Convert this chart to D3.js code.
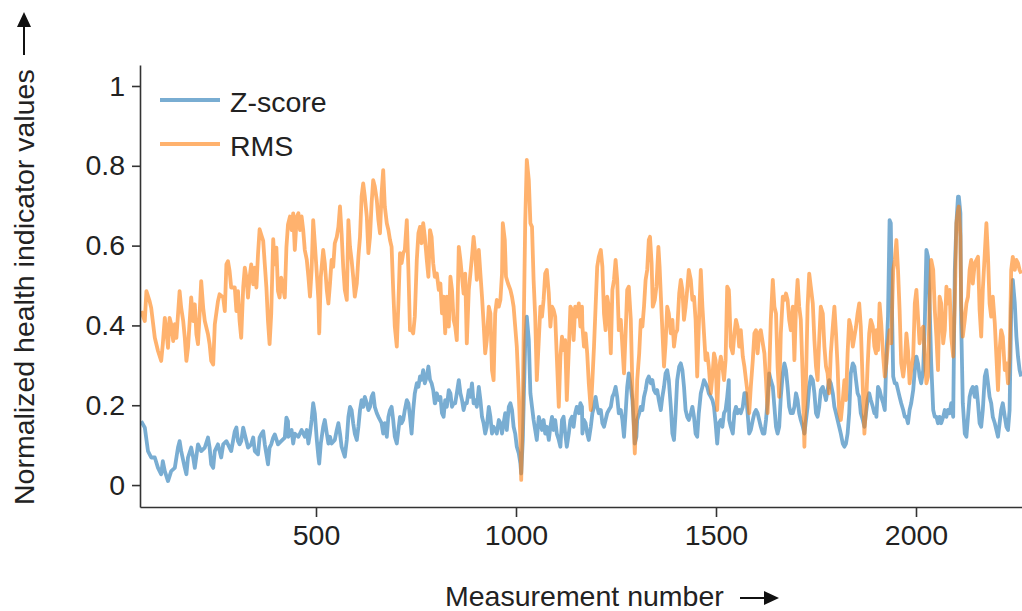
<!DOCTYPE html>
<html>
<head>
<meta charset="utf-8">
<script src="https://cdn.jsdelivr.net/npm/d3@7"></script>
<style>
  body { margin: 0; background: #fff; }
  text { font-family: "Liberation Sans", Arial, sans-serif; fill: #222; }
</style>
</head>
<body>
<div id="chart"></div>
<script>
var zscoreAt = [63,72,80,88,97,105,113,117,122,130,138,147,155,159,163,172,176,180,188,193,197,205,213,222,230,234,238,243,247,255,263,268,276,280,288,297,301,305,309,313,318,322,330,338,343,347,355,359,363,368,372,376,380,384,388,393,397,405,413,422,426,430,
  431,439,443,447,456,464,472,477,481,485,489,493,497,502,506,508,512,518,522,527,531,535,539,547,552,556,560,564,572,577,581,585,589,593,597,602,606,610,614,618,622,627,631,635,639,643,647,652,656,660,664,668,672,677,681,685,689,693,697,702,706,710,714,718,722,727,731,735,739,743,747,752,756,760,764,768,772,777,781,785,789,793,797,
  798,802,807,811,815,819,823,827,832,836,840,844,848,852,857,861,865,869,873,877,882,886,890,894,898,902,907,911,915,919,923,927,932,936,940,944,948,952,957,961,965,969,973,977,982,986,990,994,998,1002,1007,1011,1013,1017,1020,1023,1027,1032,1036,1040,1044,1048,1052,1057,1061,1065,1069,1073,1077,1082,1086,1090,1094,1098,1102,1107,1111,1115,1119,1123,1127,1132,1136,1140,1144,1148,1152,1157,1161,1165,
  1166,1170,1174,1178,1182,1187,1191,1195,1199,1203,1207,1212,1216,1220,1224,1228,1232,1237,1241,1245,1249,1253,1257,1262,1266,1270,1274,1278,1282,1287,1291,1295,1297,1301,1303,1308,1312,1316,1320,1324,1328,1332,1337,1341,1345,1349,1353,1357,1362,1366,1370,1374,1378,1382,1387,1391,1395,1399,1403,1408,1412,1416,1420,1424,1428,1432,1437,1441,1445,1449,1453,1457,1462,1466,1470,1474,1478,1482,1487,1491,1495,1499,1503,1507,1512,1516,1520,1524,1528,1532,
  1533,1537,1542,1546,1550,1554,1558,1562,1567,1571,1575,1579,1583,1587,1592,1596,1600,1604,1608,1612,1617,1621,1625,1629,1633,1637,1642,1646,1650,1654,1658,1662,1667,1671,1675,1679,1683,1687,1692,1696,1700,1704,1708,1712,1717,1721,1725,1729,1733,1737,1742,1746,1750,1754,1758,1762,1767,1771,1775,1779,1783,1787,1792,1796,1800,1804,1808,1812,1817,1821,1825,1829,1833,1837,1842,1846,1850,1854,1858,1862,1867,1871,1875,1879,1883,1887,1892,1896,1900,
  1901,1905,1909,1913,1918,1922,1926,1930,1934,1937,1940,1943,1947,1951,1955,1959,1963,1968,1972,1976,1980,1984,1988,1993,1997,2001,2005,2009,2013,2018,2022,2026,2030,2034,2038,2043,2047,2051,2055,2059,2063,2068,2072,2076,2080,2084,2088,2093,2097,2101,2105,2107,2111,2113,2117,2122,2126,2130,2134,2138,2142,2147,2151,2155,2159,2163,2167,2172,2176,2180,2184,2188,2192,2197,2201,2205,2209,2213,2217,2222,2226,2230,2234,2238,2242,2247,2251,2255,2259,2263];
var zscore = [.160,.144,.085,.069,.069,.043,.027,.060,.035,.010,.035,.043,.094,.110,.085,.043,.027,.069,.094,.069,.043,.102,.085,.094,.119,.094,.052,.043,.085,.102,.069,.102,.110,.102,.085,.135,.144,.110,.102,.110,.144,.127,.094,.102,.119,.085,.077,.119,.127,.135,.102,.077,.052,.094,.102,.119,.127,.102,.110,.119,.169,.160,
  .121,.138,.104,.129,.121,.138,.121,.138,.104,.129,.163,.205,.180,.113,.071,.054,.104,.146,.163,.129,.104,.121,.104,.113,.138,.155,.129,.096,.071,.113,.171,.196,.188,.155,.129,.113,.146,.188,.213,.196,.221,.205,.188,.196,.221,.230,.196,.180,.171,.163,.155,.129,.155,.121,.171,.188,.196,.163,.121,.104,.138,.171,.155,.163,.188,.213,.205,.171,.129,.188,.230,.255,.246,.272,.264,.288,.255,.272,.297,.264,.255,.238,.205,
  .205,.230,.213,.221,.180,.171,.213,.196,.238,.230,.196,.205,.205,.230,.263,.230,.213,.188,.205,.205,.238,.221,.255,.205,.213,.196,.246,.213,.171,.155,.129,.146,.196,.171,.129,.146,.138,.129,.163,.155,.129,.155,.180,.138,.196,.205,.188,.146,.129,.096,.079,.054,.029,.113,.238,.355,.422,.363,.230,.196,.163,.138,.113,.171,.155,.138,.163,.129,.146,.113,.146,.171,.138,.163,.129,.113,.096,.163,.171,.129,.096,.129,.163,.171,.146,.180,.196,.180,.205,.196,
  .129,.163,.155,.129,.113,.146,.180,.196,.221,.196,.180,.188,.155,.146,.163,.180,.188,.196,.221,.230,.246,.221,.180,.188,.163,.121,.180,.246,.280,.246,.213,.146,.104,.121,.163,.180,.196,.188,.221,.238,.263,.272,.255,.263,.238,.230,.238,.213,.188,.221,.246,.280,.288,.263,.196,.129,.113,.180,.263,.297,.305,.288,.246,.188,.171,.163,.180,.196,.171,.129,.121,.180,.230,.246,.263,.255,.246,.230,.221,.213,.196,.155,.104,.155,.163,.146,.180,.188,.221,.263,
  .163,.146,.129,.180,.196,.180,.188,.180,.196,.230,.230,.180,.129,.138,.163,.180,.188,.180,.163,.146,.129,.129,.163,.213,.280,.263,.246,.196,.146,.129,.146,.221,.280,.305,.288,.246,.196,.180,.180,.196,.230,.213,.180,.163,.146,.129,.163,.196,.246,.272,.263,.230,.180,.171,.196,.238,.246,.230,.213,.238,.263,.255,.230,.196,.180,.163,.146,.129,.104,.096,.104,.129,.180,.280,.305,.297,.263,.230,.221,.180,.163,.146,.180,.213,.230,.213,.196,.180,.188,
  .171,.246,.238,.221,.205,.188,.322,.422,.664,.656,.439,.272,.255,.255,.238,.221,.205,.188,.171,.171,.155,.188,.205,.238,.288,.322,.305,.272,.255,.288,.405,.589,.572,.455,.305,.188,.171,.171,.155,.171,.155,.171,.188,.171,.188,.180,.205,.171,.539,.656,.723,.723,.681,.405,.205,.129,.121,.171,.221,.238,.246,.221,.246,.205,.155,.146,.188,.272,.288,.255,.221,.205,.171,.155,.138,.121,.155,.188,.205,.171,.146,.138,.188,.439,.514,.455,.372,.322,.288,.272];

var rmsAt = [63,72,76,84,88,97,105,113,117,122,126,130,134,138,143,147,151,159,163,168,172,176,180,188,193,197,201,205,209,213,218,222,230,234,238,243,247,255,259,268,272,276,280,284,288,297,301,305,309,313,318,322,326,330,334,338,343,347,351,355,359,363,368,372,376,380,384,388,393,397,401,405,409,413,422,426,430,
  435,439,443,447,452,456,460,464,468,472,477,481,485,489,493,497,502,506,508,512,518,522,527,531,535,539,543,547,552,556,560,564,568,572,577,581,585,589,593,597,602,606,610,614,618,622,627,631,635,639,643,647,652,656,660,664,668,672,677,681,685,689,693,697,702,706,710,714,718,722,727,731,735,739,743,747,752,756,760,764,768,772,777,781,785,789,793,797,
  798,802,807,811,815,819,823,827,832,836,840,844,848,852,857,861,865,869,873,877,882,886,890,894,898,902,907,911,915,919,923,927,932,936,940,944,948,952,957,961,965,967,972,975,980,986,990,994,998,1002,1007,1011,1013,1017,1020,1023,1027,1032,1036,1040,1044,1048,1052,1057,1061,1065,1069,1073,1077,1082,1086,1090,1094,1098,1102,1107,1111,1115,1119,1123,1127,1132,1136,1140,1144,1148,1152,1157,1161,1165,
  1166,1170,1174,1178,1182,1187,1191,1195,1199,1203,1207,1212,1216,1220,1224,1228,1232,1237,1241,1245,1249,1253,1257,1262,1266,1270,1274,1278,1282,1287,1291,1295,1297,1301,1303,1308,1312,1316,1320,1324,1328,1332,1335,1339,1342,1347,1351,1356,1359,1364,1370,1374,1378,1382,1387,1391,1395,1399,1403,1408,1412,1416,1420,1424,1428,1432,1437,1441,1445,1449,1453,1457,1462,1466,1470,1474,1478,1482,1487,1491,1495,1499,1503,1507,1512,1516,1520,1524,1528,1532,
  1533,1537,1542,1546,1550,1554,1558,1562,1567,1571,1575,1579,1583,1587,1592,1596,1600,1604,1608,1612,1617,1621,1625,1629,1633,1637,1642,1646,1650,1654,1658,1662,1667,1671,1675,1679,1683,1687,1692,1696,1700,1704,1708,1712,1717,1721,1725,1729,1733,1737,1742,1746,1750,1754,1758,1762,1767,1771,1775,1779,1783,1787,1792,1796,1800,1804,1808,1812,1817,1821,1825,1829,1833,1837,1842,1846,1850,1854,1858,1862,1867,1871,1875,1879,1883,1887,1892,1896,1900,
  1901,1905,1909,1913,1918,1922,1926,1930,1934,1938,1943,1947,1951,1955,1959,1963,1968,1972,1976,1980,1984,1988,1993,1997,2001,2005,2009,2013,2018,2022,2026,2030,2034,2038,2043,2047,2051,2055,2059,2063,2068,2072,2076,2080,2084,2088,2093,2097,2101,2105,2107,2111,2113,2117,2122,2126,2130,2134,2138,2142,2147,2151,2155,2159,2163,2167,2172,2176,2180,2184,2188,2192,2197,2201,2205,2209,2213,2217,2222,2226,2230,2234,2238,2242,2247,2251,2255,2259,2263];
var rms = [.436,.411,.486,.461,.444,.369,.336,.311,.353,.419,.386,.344,.419,.403,.361,.403,.369,.486,.444,.411,.369,.311,.344,.470,.411,.453,.378,.353,.428,.511,.444,.411,.378,.353,.311,.302,.403,.461,.478,.470,.436,.553,.561,.536,.495,.495,.436,.486,.411,.369,.495,.545,.520,.470,.520,.553,.503,.545,.495,.578,.641,.628,.612,.553,.495,.411,.353,.428,.616,.553,.595,.486,.470,.520,.470,.595,.653,
  .673,.639,.681,.589,.673,.681,.639,.673,.639,.589,.564,.522,.472,.539,.664,.606,.530,.464,.380,.522,.589,.556,.489,.455,.505,.564,.547,.606,.622,.647,.698,.631,.547,.489,.464,.664,.597,.564,.522,.472,.505,.572,.622,.723,.756,.723,.673,.581,.622,.706,.764,.748,.714,.664,.631,.731,.789,.698,.656,.639,.614,.597,.489,.397,.347,.455,.581,.556,.581,.589,.664,.539,.388,.388,.380,.422,.564,.631,.647,.606,.656,.622,.564,.522,.639,.622,.556,.522,
  .522,.530,.489,.505,.430,.472,.380,.472,.397,.522,.489,.414,.397,.363,.597,.564,.522,.480,.530,.355,.489,.530,.572,.622,.581,.514,.589,.530,.472,.405,.330,.363,.447,.430,.288,.263,.430,.464,.447,.464,.530,.656,.614,.522,.505,.489,.472,.447,.397,.347,.230,.113,.013,.196,.447,.656,.815,.764,.656,.647,.514,.422,.263,.363,.447,.422,.464,.530,.539,.480,.397,.447,.439,.422,.322,.196,.322,.372,.338,.363,.213,.338,.447,.439,.363,.447,.422,.455,.397,.447,
  .397,.347,.380,.330,.255,.188,.263,.347,.447,.547,.572,.589,.547,.430,.388,.472,.447,.330,.489,.514,.564,.514,.388,.414,.347,.280,.380,.489,.497,.414,.246,.129,.079,.180,.263,.330,.414,.397,.447,.514,.539,.614,.622,.556,.447,.464,.497,.597,.547,.430,.297,.355,.447,.430,.380,.414,.347,.380,.388,.480,.514,.489,.414,.447,.489,.539,.514,.464,.472,.414,.272,.397,.539,.447,.380,.313,.330,.297,.230,.272,.330,.313,.188,.288,.322,.297,.263,.313,.497,.489,
  .472,.347,.330,.380,.414,.397,.347,.388,.322,.297,.263,.230,.180,.246,.313,.380,.388,.330,.380,.388,.355,.330,.263,.180,.280,.414,.514,.447,.430,.297,.221,.380,.472,.464,.480,.464,.414,.388,.447,.313,.447,.514,.447,.414,.263,.096,.263,.447,.530,.497,.455,.363,.297,.263,.363,.447,.430,.347,.297,.280,.230,.330,.397,.447,.380,.297,.180,.163,.213,.263,.213,.330,.414,.397,.347,.372,.397,.430,.455,.397,.246,.129,.196,.297,.380,.414,.397,.347,.330,
  .388,.338,.455,.405,.322,.272,.305,.355,.388,.355,.539,.564,.614,.539,.439,.305,.272,.305,.380,.338,.255,.288,.322,.455,.489,.422,.355,.388,.397,.322,.255,.272,.455,.564,.539,.439,.372,.288,.472,.455,.355,.388,.497,.455,.489,.372,.322,.455,.656,.689,.698,.622,.455,.372,.414,.455,.472,.539,.564,.505,.556,.564,.572,.439,.372,.489,.581,.656,.572,.455,.422,.472,.405,.322,.238,.338,.388,.372,.288,.305,.255,.322,.539,.572,.539,.564,.556,.539,.530];

var seriesNames = ["Z-score", "RMS"];
var seriesColors = ["#1f77b4", "#ff7f0e"];
var yTicks = [0, 0.2, 0.4, 0.6, 0.8, 1];
var xTicks = [500, 1000, 1500, 2000];

var w = 1022, h = 611;
var plotLeft = 140, plotRight = 1022, plotTop = 65, plotBottom = 507;
var fontSize = 28.5;

var svg = d3.select("#chart").append("svg")
  .attr("width", w)
  .attr("height", h);

var x = d3.scaleLinear().domain([60, 2265]).range([plotLeft, plotRight]);
var y = d3.scaleLinear().domain([-0.055, 1.0526]).range([plotBottom, plotTop]);

svg.append("defs").append("clipPath").attr("id", "plot")
  .append("rect")
  .attr("x", plotLeft).attr("y", plotTop)
  .attr("width", plotRight - plotLeft).attr("height", plotBottom - plotTop);

var line = d3.line()
  .x(function(d) { return x(d[0]); })
  .y(function(d) { return y(d[1]); });

var series = [d3.zip(zscoreAt, zscore), d3.zip(rmsAt, rms)];

svg.append("g").attr("clip-path", "url(#plot)")
  .selectAll("path")
  .data(series)
  .enter()
  .append("path")
  .attr("d", line)
  .attr("fill", "none")
  .attr("stroke", function(d, i) { return seriesColors[i]; })
  .attr("stroke-opacity", 0.6)
  .attr("stroke-width", 3.8)
  .attr("stroke-linejoin", "round");

// axes
var yAxis = d3.axisLeft(y)
  .tickValues(yTicks)
  .tickSize(8)
  .tickSizeOuter(0)
  .tickPadding(7)
  .tickFormat(function(d) { return String(d); });

var xAxis = d3.axisBottom(x)
  .tickValues(xTicks)
  .tickSize(10)
  .tickSizeOuter(0)
  .tickPadding(8)
  .tickFormat(d3.format("d"));

var gy = svg.append("g").attr("transform", "translate(" + plotLeft + ",0)").call(yAxis);
var gx = svg.append("g").attr("transform", "translate(0," + plotBottom + ")").call(xAxis);

[gy, gx].forEach(function(g) {
  g.select(".domain").attr("stroke", "#333").attr("stroke-width", 1.6);
  g.selectAll(".tick line").attr("stroke", "#333").attr("stroke-width", 1.6);
  g.selectAll(".tick text")
    .attr("font-family", "Liberation Sans, Arial, sans-serif")
    .attr("font-size", fontSize)
    .attr("fill", "#222");
});

// legend
var legend = svg.append("g");
seriesNames.forEach(function(name, i) {
  var ly = 100 + i * 44;
  legend.append("line")
    .attr("x1", 160).attr("x2", 220)
    .attr("y1", ly).attr("y2", ly)
    .attr("stroke", seriesColors[i])
    .attr("stroke-opacity", 0.6)
    .attr("stroke-width", 3.8);
  legend.append("text")
    .attr("x", 230).attr("y", ly + 12)
    .attr("font-size", fontSize)
    .text(name);
});

// axis titles with arrows
svg.append("text")
  .attr("transform", "translate(34,505) rotate(-90)")
  .attr("font-size", fontSize)
  .text("Normalized health indicator values");

svg.append("line")
  .attr("x1", 24).attr("x2", 24)
  .attr("y1", 55).attr("y2", 24)
  .attr("stroke", "#111").attr("stroke-width", 2);
svg.append("path")
  .attr("d", "M24,12 L17,27 L31,27 Z")
  .attr("fill", "#111");

svg.append("text")
  .attr("x", 445).attr("y", 606)
  .attr("font-size", fontSize)
  .text("Measurement number");

svg.append("line")
  .attr("x1", 740).attr("x2", 766)
  .attr("y1", 598).attr("y2", 598)
  .attr("stroke", "#111").attr("stroke-width", 2);
svg.append("path")
  .attr("d", "M779,598 L764,591 L764,605 Z")
  .attr("fill", "#111");
</script>
</body>
</html>
